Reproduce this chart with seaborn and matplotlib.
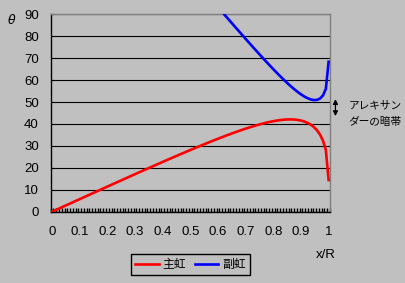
import matplotlib
matplotlib.use("Agg")
import matplotlib.pyplot as plt
import matplotlib.transforms as mtransforms
from matplotlib.lines import Line2D
import numpy as np
import pandas as pd
import seaborn as sns

# ---------------- data ----------------
x_primary = [0.00, 0.01, 0.02, 0.03, 0.04, 0.05, 0.06, 0.07, 0.08, 0.09,
             0.10, 0.11, 0.12, 0.13, 0.14, 0.15, 0.16, 0.17, 0.18, 0.19,
             0.20, 0.21, 0.22, 0.23, 0.24, 0.25, 0.26, 0.27, 0.28, 0.29,
             0.30, 0.31, 0.32, 0.33, 0.34, 0.35, 0.36, 0.37, 0.38, 0.39,
             0.40, 0.41, 0.42, 0.43, 0.44, 0.45, 0.46, 0.47, 0.48, 0.49,
             0.50, 0.51, 0.52, 0.53, 0.54, 0.55, 0.56, 0.57, 0.58, 0.59,
             0.60, 0.61, 0.62, 0.63, 0.64, 0.65, 0.66, 0.67, 0.68, 0.69,
             0.70, 0.71, 0.72, 0.73, 0.74, 0.75, 0.76, 0.77, 0.78, 0.79,
             0.80, 0.81, 0.82, 0.83, 0.84, 0.85, 0.86, 0.87, 0.88, 0.89,
             0.90, 0.91, 0.92, 0.93, 0.94, 0.95, 0.96, 0.97, 0.98, 0.99,
             1.00]
theta_primary = [0.00, 0.57, 1.15, 1.72, 2.29, 2.87, 3.44, 4.01, 4.59, 5.16,
                 5.73, 6.30, 6.88, 7.45, 8.02, 8.59, 9.16, 9.73, 10.30, 10.87,
                 11.44, 12.01, 12.58, 13.15, 13.72, 14.28, 14.85, 15.42, 15.98, 16.55,
                 17.11, 17.67, 18.24, 18.80, 19.36, 19.92, 20.47, 21.03, 21.59, 22.14,
                 22.69, 23.25, 23.80, 24.34, 24.89, 25.43, 25.98, 26.52, 27.05, 27.59,
                 28.12, 28.65, 29.18, 29.70, 30.22, 30.74, 31.25, 31.77, 32.27, 32.77,
                 33.26, 33.76, 34.24, 34.72, 35.19, 35.66, 36.11, 36.56, 37.00, 37.44,
                 37.86, 38.27, 38.66, 39.05, 39.42, 39.78, 40.11, 40.44, 40.74, 41.01,
                 41.26, 41.49, 41.69, 41.84, 41.97, 42.05, 42.08, 42.06, 41.97, 41.81,
                 41.56, 41.20, 40.72, 40.10, 39.28, 38.21, 36.80, 34.91, 32.26, 28.07,
                 14.43]

x_secondary = [0.60, 0.61, 0.62, 0.63, 0.64, 0.65, 0.66, 0.67, 0.68, 0.69,
               0.70, 0.71, 0.72, 0.73, 0.74, 0.75, 0.76, 0.77, 0.78, 0.79,
               0.80, 0.81, 0.82, 0.83, 0.84, 0.85, 0.86, 0.87, 0.88, 0.89,
               0.90, 0.91, 0.92, 0.93, 0.94, 0.95, 0.96, 0.97, 0.98, 0.99,
               1.00]
theta_secondary = [93.23, 91.78, 90.32, 88.87, 87.42, 85.98, 84.53, 83.09, 81.65, 80.22,
                   78.79, 77.37, 75.95, 74.54, 73.14, 71.75, 70.37, 68.99, 67.64, 66.30,
                   64.98, 63.67, 62.39, 61.13, 59.91, 58.71, 57.56, 56.46, 55.41, 54.42,
                   53.51, 52.69, 51.99, 51.42, 51.03, 50.88, 51.06, 51.70, 53.10, 56.01,
                   68.36]

series_names = ["主虹", "副虹"]
series_colors = ["#FF0000", "#0000FF"]

x_tick_values = [0.0, 0.1, 0.2, 0.3, 0.4, 0.5, 0.6, 0.7, 0.8, 0.9, 1.0]
x_tick_labels = ["0", "0.1", "0.2", "0.3", "0.4", "0.5", "0.6", "0.7", "0.8", "0.9", "1"]
y_tick_values = [0, 10, 20, 30, 40, 50, 60, 70, 80, 90]

# ---------------- figure ----------------
BG = "#C0C0C0"
W, H = 405, 283
fig = plt.figure(figsize=(W / 100, H / 100), dpi=100, facecolor=BG)
L, R, T, B = 50.7, 330.0, 14.3, 211.7
ax = fig.add_axes([L / W, 1 - B / H, (R - L) / W, (B - T) / H])
ax.set_facecolor(BG)

df = pd.concat([
    pd.DataFrame({"x": x_primary, "theta": theta_primary, "series": series_names[0]}),
    pd.DataFrame({"x": x_secondary, "theta": theta_secondary, "series": series_names[1]}),
])
sns.lineplot(data=df, x="x", y="theta", hue="series", palette=series_colors,
             estimator=None, sort=False, linewidth=1.9, ax=ax, legend=False, zorder=3)

# category-style axis: each 0.01 step occupies one slot, points at slot centres
ax.set_xlim(-0.005, 1.005)
ax.set_ylim(0, 90)
ax.set_xlabel("")
ax.set_ylabel("")

# x axis: slot-boundary tick marks (inward), labels every 0.1 without marks
slot_edges = [(-0.005 + 0.01 * k) for k in range(102)]
ax.set_xticks(slot_edges)
ax.tick_params(axis="x", which="major", bottom=True, direction="in",
               length=2.6, width=1.0, color="black", labelbottom=False)
ax.tick_params(axis="x", which="minor", bottom=False, labelbottom=False)
label_trans = mtransforms.blended_transform_factory(ax.transData, fig.transFigure)
for xv, txt in zip(x_tick_values, x_tick_labels):
    ax.text(xv, 1 - 232 / H, txt, transform=label_trans, ha="center", va="center",
            fontsize=9.5, family=["Liberation Sans", "DejaVu Sans"], color="black")

ax.set_yticks(y_tick_values)
ax.tick_params(axis="y", which="major", direction="in", length=2.2, width=0.8,
               pad=8.5, labelsize=9.5, colors="black")
for lab in ax.get_yticklabels():
    lab.set_fontfamily(["Liberation Sans", "DejaVu Sans"])

ax.yaxis.grid(True, color="black", linewidth=0.8)
ax.xaxis.grid(False)

for side in ["left", "bottom"]:
    ax.spines[side].set_color("black")
    ax.spines[side].set_linewidth(1.0)
for side in ["top", "right"]:
    ax.spines[side].set_color("#808080")
    ax.spines[side].set_linewidth(1.0)

# axis labels
fig.text(11.5 / W, 1 - 20 / H, "θ", fontsize=9, style="italic",
         family=["DejaVu Sans"], ha="center", va="center")
fig.text(326 / W, 1 - 255.5 / H, "x/R", fontsize=9.5,
         family=["Liberation Sans", "DejaVu Sans"], ha="center", va="center")

# Alexander's dark band annotation
trans = mtransforms.blended_transform_factory(ax.transAxes, ax.transData)
ax.annotate("", xy=(1.0195, 51.3), xytext=(1.0195, 43.6),
            xycoords=trans, textcoords=trans, annotation_clip=False,
            arrowprops=dict(arrowstyle="<|-|>,head_length=0.35,head_width=0.18",
                            color="black", lw=0.9, shrinkA=0, shrinkB=0,
                            mutation_scale=8))
jp = ["Noto Sans CJK JP", "DejaVu Sans"]
fig.text(348.3 / W, 1 - 105.5 / H, "アレキサン", fontsize=7.7, family=jp, ha="left", va="center")
fig.text(348.3 / W, 1 - 121.5 / H, "ダーの暗帯", fontsize=7.7, family=jp, ha="left", va="center")

# legend
handles = [Line2D([0], [0], color=c, lw=1.9) for c in series_colors]
leg = fig.legend(handles, series_names, loc="center",
                 bbox_to_anchor=(190.5 / W, 1 - 264.7 / H), ncol=2,
                 frameon=True, fancybox=False, edgecolor="black", facecolor=BG,
                 framealpha=1, handlelength=2.0, handletextpad=0.35,
                 columnspacing=0.7, borderpad=0.35, borderaxespad=0,
                 prop=dict(family=jp, size=8.5))
leg.get_frame().set_linewidth(1.0)

fig.savefig("out.png", dpi=100, facecolor=BG)
